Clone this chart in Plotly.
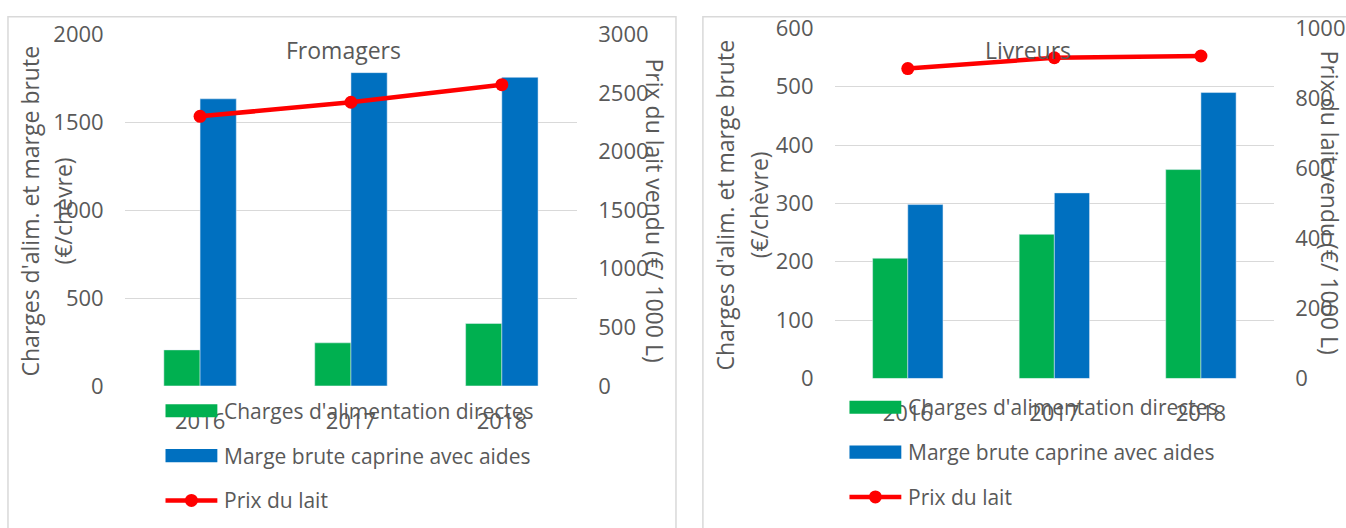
import plotly.graph_objects as go

# Data
years = ["2016", "2017", "2018"]

fromagers_charges = [205, 245, 355]
fromagers_marge = [1633, 1782, 1755]
fromagers_prix = [2300, 2420, 2570]

livreurs_charges = [206, 247, 358]
livreurs_marge = [298, 318, 490]
livreurs_prix = [885, 916, 921]

series_names = ["Charges d'alimentation directes",
                "Marge brute caprine avec aides",
                "Prix du lait"]

W, H = 1346, 528
GREEN, BLUE, RED = "#00B050", "#0070C0", "#FF0000"
TXT = "#595959"
GRID = "#D9D9D9"
FONT = "Open Sans"


def px(x):
    return x / W


def py(y):
    return 1 - y / H


fig = go.Figure()

# Left panel: Fromagers
fig.add_trace(go.Bar(x=years, y=fromagers_charges, name=series_names[0],
                     marker_color=GREEN, xaxis="x", yaxis="y", showlegend=False))
fig.add_trace(go.Bar(x=years, y=fromagers_marge, name=series_names[1],
                     marker_color=BLUE, xaxis="x", yaxis="y", showlegend=False))
fig.add_trace(go.Scatter(x=years, y=fromagers_prix, name=series_names[2],
                         mode="lines+markers", line=dict(color=RED, width=4.5),
                         marker=dict(color=RED, size=13),
                         xaxis="x", yaxis="y2", showlegend=False))

# Right panel: Livreurs
fig.add_trace(go.Bar(x=years, y=livreurs_charges, name=series_names[0],
                     marker_color=GREEN, xaxis="x2", yaxis="y3", showlegend=False))
fig.add_trace(go.Bar(x=years, y=livreurs_marge, name=series_names[1],
                     marker_color=BLUE, xaxis="x2", yaxis="y3", showlegend=False))
fig.add_trace(go.Scatter(x=years, y=livreurs_prix, name=series_names[2],
                         mode="lines+markers", line=dict(color=RED, width=4.5),
                         marker=dict(color=RED, size=13),
                         xaxis="x2", yaxis="y4", showlegend=False))

tickfont = dict(family=FONT, size=22, color=TXT)

xcommon = dict(type="category", showgrid=False, showline=False, zeroline=False,
               ticks="", tickfont=tickfont, ticklabelstandoff=20)
ycommon = dict(showline=False, zeroline=False, ticks="", tickfont=tickfont,
               ticklabelstandoff=20)

fig.update_layout(
    width=W, height=H,
    margin=dict(l=0, r=0, t=0, b=0),
    paper_bgcolor="white", plot_bgcolor="rgba(0,0,0,0)",
    barmode="group", bargap=0.52, bargroupgap=0,
    font=dict(family=FONT, color=TXT),
    xaxis=dict(domain=[px(125), px(579)], anchor="y", **xcommon),
    yaxis=dict(domain=[py(392.2), py(19.4)], range=[0, 2000], dtick=500,
               showgrid=True, gridcolor=GRID, gridwidth=1.3, **ycommon),
    yaxis2=dict(overlaying="y", side="right", anchor="x", range=[0, 3000],
                dtick=500, showgrid=False, **ycommon),
    xaxis2=dict(domain=[px(837), px(1278)], anchor="y3", **xcommon),
    yaxis3=dict(domain=[py(384.3), py(13.1)], range=[0, 600], dtick=100,
                showgrid=True, gridcolor=GRID, gridwidth=1.3, anchor="x2", **ycommon),
    yaxis4=dict(overlaying="y3", side="right", anchor="x2", range=[0, 1000],
                dtick=200, showgrid=False, **ycommon),
)

shapes = []
annotations = []

# Panel borders
for x0, x1 in [(8, 678), (705, 1360)]:
    shapes.append(dict(type="rect", xref="paper", yref="paper",
                       x0=px(x0), x1=px(x1), y0=py(560), y1=py(0.8),
                       line=dict(color=GRID, width=1.5), fillcolor="rgba(0,0,0,0)",
                       layer="below"))

# Chart titles
for text, x in [("Fromagers", 345), ("Livreurs", 1031)]:
    annotations.append(dict(text=text, x=px(x), y=py(36.3), xref="paper", yref="paper",
                            showarrow=False, xanchor="center", yanchor="middle",
                            font=dict(family=FONT, size=23, color=TXT)))

# Axis titles
axis_font = dict(family=FONT, size=23, color=TXT)
for x1, x2, yc in [(30, 63, 206.3), (727, 761, 200.0)]:
    annotations.append(dict(text="Charges d'alim. et marge brute", x=px(x1), y=py(yc),
                            xref="paper", yref="paper", showarrow=False, textangle=-90,
                            xanchor="center", yanchor="middle", font=axis_font))
    annotations.append(dict(text="(€/chèvre)", x=px(x2), y=py(yc),
                            xref="paper", yref="paper", showarrow=False, textangle=-90,
                            xanchor="center", yanchor="middle", font=axis_font))
for x, yc in [(657, 206.3), (1334, 197.9)]:
    annotations.append(dict(text="Prix du lait vendu (€/ 1000 L)", x=px(x), y=py(yc),
                            xref="paper", yref="paper", showarrow=False, textangle=90,
                            xanchor="center", yanchor="middle", font=axis_font))

# Legends
leg_font = dict(family=FONT, size=21, color=TXT)
for sx0, sx1, tx, rows in [(166, 218, 223, (418.6, 466.1, 513.6)),
                           (852, 904, 909, (414.9, 462.4, 509.9))]:
    for color, yc in zip([GREEN, BLUE], rows[:2]):
        shapes.append(dict(type="rect", xref="paper", yref="paper",
                           x0=px(sx0), x1=px(sx1), y0=py(yc + 6.9), y1=py(yc - 6.9),
                           line=dict(width=0), fillcolor=color))
    yl = rows[2]
    shapes.append(dict(type="line", xref="paper", yref="paper",
                       x0=px(sx0), x1=px(sx1), y0=py(yl), y1=py(yl),
                       line=dict(color=RED, width=4.5)))
    cx = (sx0 + sx1) / 2
    shapes.append(dict(type="circle", xref="paper", yref="paper",
                       x0=px(cx - 6.5), x1=px(cx + 6.5), y0=py(yl + 6.9), y1=py(yl - 6.9),
                       line=dict(width=0), fillcolor=RED))
    for name, yc in zip(series_names, rows):
        annotations.append(dict(text=name, x=px(tx), y=py(yc), xref="paper", yref="paper",
                                showarrow=False, xanchor="left", yanchor="middle",
                                font=leg_font))

fig.update_layout(shapes=shapes, annotations=annotations)

fig.write_html("out.html")
